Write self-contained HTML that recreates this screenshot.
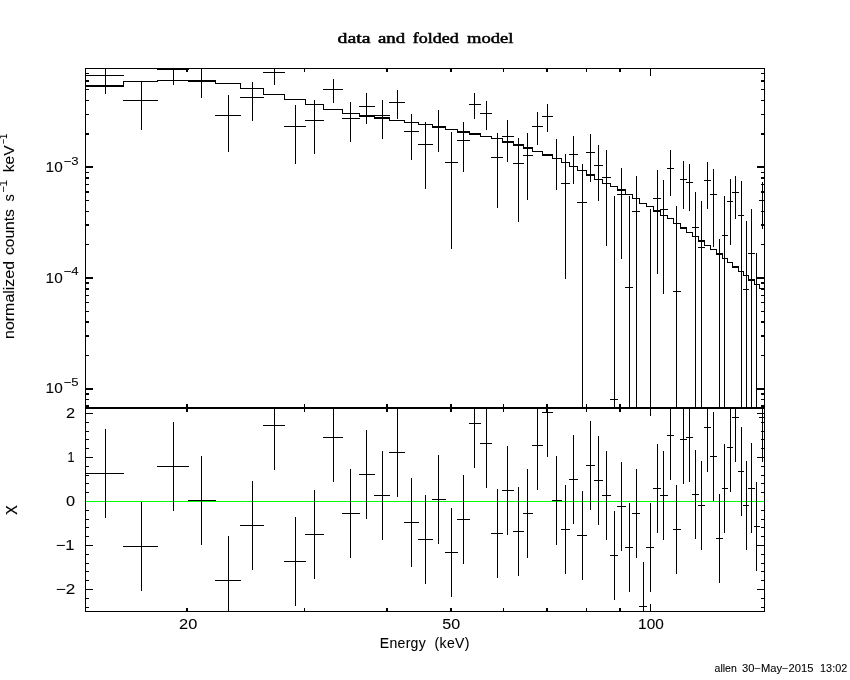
<!DOCTYPE html>
<html lang="en"><head><meta charset="utf-8"><title>data and folded model</title>
<style>
html,body{margin:0;padding:0;background:#fff}
body{width:850px;height:680px;overflow:hidden}
svg{display:block}
.lab{font-family:"Liberation Sans",sans-serif;font-size:14px}
.sm{font-family:"Liberation Sans",sans-serif;font-size:10.2px}
.sup{font-family:"Liberation Sans",sans-serif;font-size:10.5px}
.chi{font-family:"Liberation Sans","DejaVu Sans",sans-serif;font-size:14px}
.ttl{font-family:"Liberation Serif",serif;font-size:14.6px;font-weight:normal;stroke-width:0.5px}
.num{font-family:"Liberation Sans",sans-serif;font-size:14.4px}
.yl{font-family:"Liberation Sans",sans-serif;font-size:14.6px}
text{stroke:#000;stroke-width:0.08px}
</style></head><body>
<svg width="850" height="680" viewBox="0 0 850 680">
<rect width="850" height="680" fill="#fff"/>
<g fill="none" stroke="#000" stroke-width="1" shape-rendering="crispEdges">
<path d="M85 68.5H765M85 611.5H765M85.5 68V612M764.5 68V612"/>
<path stroke-width="2" d="M85 408H765"/>
<path d="M304.5 68V72M304.5 404V412M304.5 608V612M503.5 68V72M503.5 404V412M503.5 608V612M586.5 68V72M586.5 404V412M586.5 608V612M650.5 68V76M650.5 400V416M650.5 604V612M85 399.5H89M761 399.5H765M85 355.5H89M761 355.5H765M85 311.5H89M761 311.5H765M85 302.5H89M761 302.5H765M85 295.5H89M761 295.5H765M85 244.5H89M761 244.5H765M85 211.5H89M761 211.5H765M85 200.5H89M761 200.5H765M85 184.5H89M761 184.5H765M85 172.5H89M761 172.5H765M85 114.5H89M761 114.5H765M85 100.5H89M761 100.5H765M85 89.5H89M761 89.5H765M85 73.5H89M761 73.5H765M85 607.5H89M761 607.5H765M85 598.5H89M761 598.5H765M85 589.5H93M757 589.5H765M85 580.5H89M761 580.5H765M85 571.5H89M761 571.5H765M85 563.5H89M761 563.5H765M85 554.5H89M761 554.5H765M85 545.5H93M757 545.5H765M85 536.5H89M761 536.5H765M85 527.5H89M761 527.5H765M85 519.5H89M761 519.5H765M85 510.5H89M761 510.5H765M85 501.5H93M757 501.5H765M85 492.5H89M761 492.5H765M85 483.5H89M761 483.5H765M85 475.5H89M761 475.5H765M85 466.5H89M761 466.5H765M85 457.5H93M757 457.5H765M85 448.5H89M761 448.5H765M85 439.5H89M761 439.5H765M85 431.5H89M761 431.5H765M85 422.5H89M761 422.5H765M85 413.5H93M757 413.5H765"/>
<path stroke-width="2" d="M187 68V72M187 404V412M187 608V612M387 68V72M387 404V412M387 608V612M451 68V72M451 404V412M451 608V612M547 68V72M547 404V412M547 608V612M620 68V72M620 404V412M620 608V612M85 406H89M761 406H765M85 394H89M761 394H765M85 389H93M757 389H765M85 336H89M761 336H765M85 322H89M761 322H765M85 289H89M761 289H765M85 283H89M761 283H765M85 278H93M757 278H765M85 225H89M761 225H765M85 192H89M761 192H765M85 178H89M761 178H765M85 167H93M757 167H765M85 134H89M761 134H765M85 81H89M761 81H765"/>
<path stroke="#00ff00" d="M86 501.5H764"/>
<path d="M85 75.5H124M105.5 68V94M85 473.5H124M105.5 429V518M123 100.5H158M141.5 82V130M123 546.5H158M141.5 502V591M157 69.5H189M173.5 68V85M157 466.5H189M173.5 422V511M188 80.5H216M201.5 68V98M188 500.5H216M201.5 456V545M215 115.5H241M228.5 95V152M215 580.5H241M228.5 536V612M240 97.5H264M252.5 82V121M240 525.5H264M252.5 481V570M263 72.5H285M274.5 68V85M263 425.5H285M274.5 408V470M284 126.5H306M295.5 105V164M284 561.5H306M295.5 517V606M305 120.5H324M314.5 100V154M305 534.5H324M314.5 490V579M323 89.5H343M333.5 79V103M323 437.5H343M333.5 408V482M342 118.5H360M350.5 102V142M342 513.5H360M350.5 469V558M359 106.5H375M366.5 93V124M359 474.5H375M366.5 430V519M374 115.5H390M382.5 100V139M374 495.5H390M382.5 451V540M389 102.5H405M397.5 90V119M389 452.5H405M397.5 408V497M404 131.5H419M411.5 114V160M404 522.5H419M411.5 478V567M418 144.5H433M425.5 122V189M418 539.5H433M425.5 495V584M432 127.5H446M438.5 110V152M432 499.5H446M438.5 455V544M445 162.5H458M451.5 132V249M445 552.5H458M451.5 508V597M457 140.5H470M463.5 122V172M457 519.5H470M463.5 475V564M469 104.5H481M474.5 93V119M469 423.5H481M474.5 408V468M480 113.5H492M486.5 101V130M480 443.5H492M486.5 408V488M491 157.5H503M497.5 133V208M491 533.5H503M497.5 489V578M502 136.5H514M507.5 120V162M502 490.5H514M507.5 446V535M513 163.5H524M518.5 138V222M513 531.5H524M518.5 487V576M523 155.5H533M527.5 133V200M523 513.5H533M527.5 469V558M532 126.5H543M537.5 112V145M532 445.5H543M537.5 408V490M542 116.5H553M547.5 104V132M542 412.5H553M547.5 408V457M552 158.5H562M556.5 139V190M552 500.5H562M556.5 456V545M561 183.5H570M565.5 154V279M561 529.5H570M565.5 485V574M569 154.5H578M573.5 136V184M569 479.5H578M573.5 435V524M577 202.5H587M582.5 164V408M577 535.5H587M582.5 491V580M586 152.5H595M590.5 134V182M586 465.5H595M590.5 421V510M594 165.5H603M598.5 145V201M594 480.5H603M598.5 436V525M602 177.5H611M606.5 150V246M602 495.5H611M606.5 451V540M610 399.5H618M614.5 196V408M610 555.5H618M614.5 511V600M617 194.5H626M621.5 168V259M617 506.5H626M621.5 462V551M625 287.5H633M629.5 196V408M625 547.5H633M629.5 503V592M632 211.5H640M636.5 176V408M632 513.5H640M636.5 469V558M639 606.5H647M643.5 562V612M650.5 209V408M646 547.5H654M650.5 503V592M653 198.5H661M657.5 170V274M653 488.5H661M657.5 444V533M660 209.5H668M663.5 180V294M660 495.5H668M663.5 451V540M667 168.5H674M670.5 150V196M667 435.5H674M670.5 408V480M673 291.5H681M676.5 206V408M673 529.5H681M676.5 485V574M680 179.5H687M683.5 161V209M680 439.5H687M683.5 408V484M686 182.5H693M689.5 164V211M686 437.5H693M689.5 408V482M692 227.5H699M695.5 192V408M692 494.5H699M695.5 450V539M698 247.5H705M701.5 201V408M698 505.5H705M701.5 461V550M704 180.5H711M707.5 162V209M704 427.5H711M707.5 408V472M710 194.5H717M713.5 169V247M710 456.5H717M713.5 412V501M719.5 239V408M716 538.5H723M719.5 494V583M722 235.5H728M724.5 196V408M722 488.5H728M724.5 444V533M727 201.5H733M730.5 179V245M727 447.5H733M730.5 408V492M732 192.5H739M735.5 176V219M732 417.5H739M735.5 408V462M738 215.5H744M741.5 181V408M738 471.5H744M741.5 427V516M743 289.5H749M746.5 221V408M743 505.5H749M746.5 461V550M748 253.5H755M751.5 209V408M748 488.5H755M751.5 443V533M756.5 253V408M754 526.5H760M756.5 482V571M759 200.5H765M762.5 182V229M759 417.5H765M762.5 408V462"/>
<path d="M85 86.5H123.5V81.5H157.5V80.5H188.5V81.5H215.5V83.5H240.5V88.5H263.5V94.5H284.5V99.5H305.5V104.5H323.5V109.5H342.5V113.5H359.5V115.5H374.5V117.5H389.5V120.5H404.5V122.5H418.5V124.5H432.5V127.5H445.5V129.5H457.5V132.5H469.5V134.5H480.5V136.5H491.5V138.5H502.5V141.5H513.5V145.5H523.5V148.5H532.5V151.5H542.5V155.5H552.5V158.5H561.5V162.5H569.5V166.5H577.5V170.5H586.5V175.5H594.5V179.5H602.5V183.5H610.5V186.5H617.5V190.5H625.5V194.5H632.5V198.5H639.5V203.5H646.5V206.5H653.5V210.5H660.5V215.5H667.5V218.5H673.5V223.5H680.5V228.5H686.5V232.5H692.5V236.5H698.5V241.5H704.5V245.5H710.5V249.5H716.5V254.5H722.5V258.5H727.5V262.5H732.5V267.5H738.5V271.5H743.5V275.5H748.5V280.5H754.5V284.5H759.5V288.5H765M85 85.5H124M85 86.5H124M359 115.5H375M359 116.5H375M374 117.5H390M374 118.5H390M432 126.5H446M432 127.5H446M457 131.5H470M457 132.5H470M469 133.5H481M469 134.5H481M502 141.5H514M502 142.5H514M513 144.5H524M513 145.5H524M523 147.5H533M523 148.5H533M542 154.5H553M542 155.5H553M586 174.5H595M586 175.5H595M617 189.5H626M617 190.5H626M653 210.5H661M653 211.5H661M680 227.5H687M680 228.5H687M698 240.5H705M698 241.5H705M716 253.5H723M716 254.5H723M732 266.5H739M732 267.5H739M748 279.5H755M748 280.5H755"/>
</g>
<g fill="#000">
<text x="337.6" y="43" textLength="32.9" lengthAdjust="spacingAndGlyphs" class="ttl">data</text>
<text x="378.0" y="43" textLength="27.1" lengthAdjust="spacingAndGlyphs" class="ttl">and</text>
<text x="412.8" y="43" textLength="45.9" lengthAdjust="spacingAndGlyphs" class="ttl">folded</text>
<text x="467.0" y="43" textLength="46.4" lengthAdjust="spacingAndGlyphs" class="ttl">model</text>
<text x="45.6" y="171.9" textLength="17.1" lengthAdjust="spacingAndGlyphs" class="num">10</text>
<text x="63.5" y="164.8" textLength="15.0" lengthAdjust="spacingAndGlyphs" class="sup">−3</text>
<text x="45.6" y="282.5" textLength="17.1" lengthAdjust="spacingAndGlyphs" class="num">10</text>
<text x="63.5" y="275.4" textLength="15.0" lengthAdjust="spacingAndGlyphs" class="sup">−4</text>
<text x="45.6" y="393.4" textLength="17.1" lengthAdjust="spacingAndGlyphs" class="num">10</text>
<text x="63.5" y="386.3" textLength="15.0" lengthAdjust="spacingAndGlyphs" class="sup">−5</text>
<text x="65.9" y="418.0" textLength="9.1" lengthAdjust="spacingAndGlyphs" class="num">2</text>
<text x="67.6" y="462.0" textLength="7.0" lengthAdjust="spacingAndGlyphs" class="num">1</text>
<text x="65.9" y="506.0" textLength="9.1" lengthAdjust="spacingAndGlyphs" class="num">0</text>
<text x="55.7" y="550.0" textLength="18.9" lengthAdjust="spacingAndGlyphs" class="num">−1</text>
<text x="55.7" y="594.0" textLength="19.5" lengthAdjust="spacingAndGlyphs" class="num">−2</text>
<text x="179.1" y="629.4" textLength="18.2" lengthAdjust="spacingAndGlyphs" class="num">20</text>
<text x="442.3" y="629.4" textLength="17.9" lengthAdjust="spacingAndGlyphs" class="num">50</text>
<text x="638.1" y="629.4" textLength="25.7" lengthAdjust="spacingAndGlyphs" class="num">100</text>
<text x="379.8" y="647.8" textLength="45.9" lengthAdjust="spacing" class="lab">Energy</text>
<text x="434.5" y="647.8" textLength="34.9" lengthAdjust="spacing" class="lab">(keV)</text>
<text x="714.6" y="672.4" textLength="22.2" lengthAdjust="spacingAndGlyphs" class="sm">allen</text>
<text x="742.0" y="672.4" textLength="71.4" lengthAdjust="spacingAndGlyphs" class="sm">30−May−2015</text>
<text x="820.1" y="672.4" textLength="27.1" lengthAdjust="spacingAndGlyphs" class="sm">13:02</text>
<text transform="translate(14.1 338.9) rotate(-90)" textLength="77.9" lengthAdjust="spacingAndGlyphs" class="yl">normalized</text>
<text transform="translate(14.1 255.0) rotate(-90)" textLength="45.9" lengthAdjust="spacingAndGlyphs" class="yl">counts</text>
<text transform="translate(14.1 201.6) rotate(-90)" textLength="7.3" lengthAdjust="spacingAndGlyphs" class="yl">s</text>
<text transform="translate(6.9 192.8) rotate(-90)" textLength="12.8" lengthAdjust="spacingAndGlyphs" class="sup">−1</text>
<text transform="translate(14.1 172.2) rotate(-90)" textLength="26.9" lengthAdjust="spacingAndGlyphs" class="yl">keV</text>
<text transform="translate(6.9 144.3) rotate(-90)" textLength="10.4" lengthAdjust="spacingAndGlyphs" class="sup">−1</text>
<text transform="translate(14.4 509.9) rotate(-90) scale(1.3 1)" text-anchor="middle" class="chi">χ</text>
</g></svg>
</body></html>
